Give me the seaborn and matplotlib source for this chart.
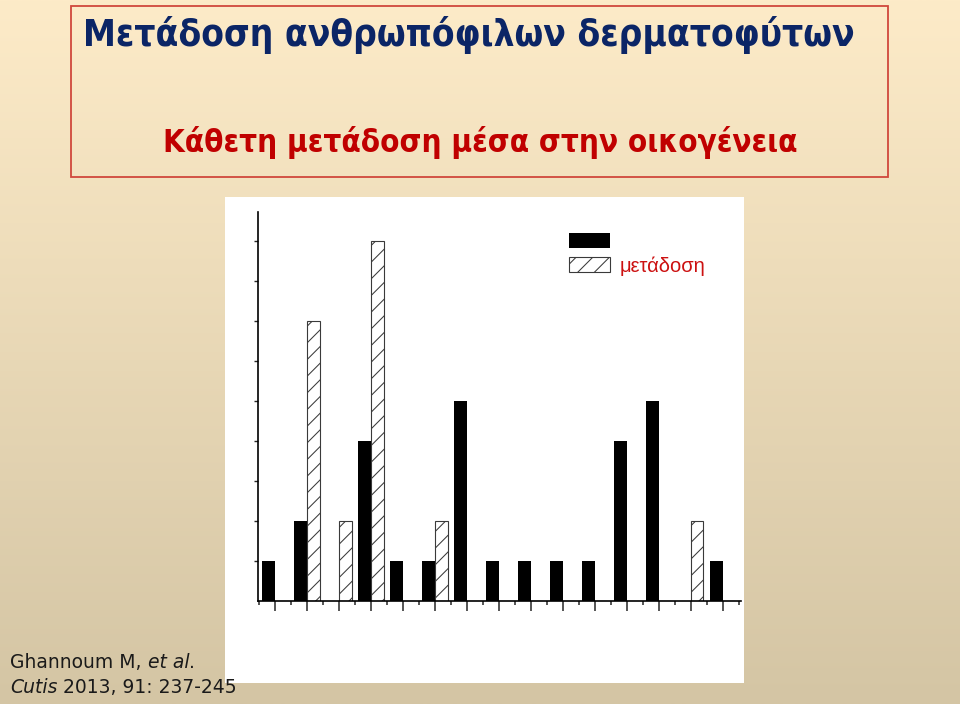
import numpy as np
import pandas as pd
import matplotlib
matplotlib.use("Agg")
import matplotlib.pyplot as plt
from matplotlib.patches import Rectangle
from matplotlib.text import Annotation
from matplotlib.ticker import FixedLocator
import seaborn as sns

# data (counts per family)
groups = [str(i) for i in range(1, 16)]
series = ["άλλο", "μετάδοση"]
solid_vals = [1, 2, 0, 4, 1, 1, 5, 1, 1, 1, 1, 4, 5, 0, 1]
hatched_vals = [0, 7, 2, 9, 0, 2, 0, 0, 0, 0, 0, 0, 0, 2, 0]
legend_labels = ["", "μετάδοση"]

title = "Μετάδοση ανθρωπόφιλων δερματοφύτων"
subtitle = "Κάθετη μετάδοση μέσα στην οικογένεια"
ref_line1 = ["Ghannoum M, ", "et al", "."]
ref_line2 = ["Cutis", " 2013, 91: 237-245"]

df = pd.DataFrame({
    "group": groups * 2,
    "series": [series[0]] * len(groups) + [series[1]] * len(groups),
    "value": solid_vals + hatched_vals,
})

sns.set_style("ticks")
plt.rcParams["font.family"] = ["DejaVu Sans"]
plt.rcParams["hatch.linewidth"] = 0.75

fig = plt.figure(figsize=(9.6, 7.04), dpi=100)

# slide background gradient
bg = fig.add_axes([0, 0, 1, 1], zorder=-10)
top = np.array([253, 235, 200]) / 255
bottom = np.array([212, 197, 164]) / 255
t = np.linspace(0, 1, 256)[:, None]
grad = (top * (1 - t) + bottom * t)[:, None, :]
bg.imshow(grad, aspect="auto", extent=[0, 1, 0, 1])
bg.set_axis_off()

# title box
fig.patches.append(Rectangle((71 / 960, 1 - 177 / 704), 817 / 960, 171 / 704,
                             transform=fig.transFigure, fill=False,
                             edgecolor="#D0483C", linewidth=1.3, zorder=1))
fig.text(83 / 960, 1 - 46 / 704, title, fontsize=26.6, fontweight="bold",
         fontstretch="condensed", color="#0B2566", ha="left", va="baseline")
fig.text(480 / 960, 1 - 152 / 704, subtitle, fontsize=22.5, fontweight="bold",
         fontstretch="condensed", color="#C00000", ha="center", va="baseline")

# white picture panel
fig.patches.append(Rectangle((225 / 960, 1 - 683 / 704), 519 / 960, 486 / 704,
                             transform=fig.transFigure, facecolor="white",
                             edgecolor="none", zorder=-5))

ax = fig.add_axes([257.5 / 960, 103 / 704, 483 / 960, 389 / 704], zorder=2)
ax.patch.set_alpha(0)
sns.barplot(data=df, x="group", y="value", hue="series", hue_order=series,
            palette=["black", "white"], saturation=1, width=0.8,
            linewidth=0, legend=False, ax=ax)

for p in ax.containers[1]:
    p.set_edgecolor("#3A3A3A")
    p.set_linewidth(0.8)
    p.set_hatch("//")

ax.set_xlim(-0.54, 14.56)
ax.set_ylim(0, 9.73)
ax.set_xlabel("")
ax.set_ylabel("")
ax.xaxis.set_major_locator(FixedLocator(range(len(groups))))
ax.xaxis.set_minor_locator(FixedLocator(np.arange(len(groups) + 1) - 0.5))
ax.yaxis.set_major_locator(FixedLocator(range(1, 10)))
ax.set_xticklabels([])
ax.set_yticklabels([])
ax.tick_params(axis="x", which="major", length=7, width=1.1, direction="out")
ax.tick_params(axis="x", which="minor", length=3, width=1.1, direction="out")
ax.tick_params(axis="y", which="major", length=3, width=1.0, direction="out")
sns.despine(ax=ax)
for s in ["left", "bottom"]:
    ax.spines[s].set_linewidth(1.2)
    ax.spines[s].set_color("black")

handles = [ax.containers[0][0], ax.containers[1][0]]
leg = ax.legend(handles, legend_labels, loc="upper left",
                bbox_to_anchor=(569 / 960, 1 - 233 / 704),
                bbox_transform=fig.transFigure, frameon=False, fontsize=14.5,
                handlelength=2.04, handleheight=0.77, handletextpad=0.45,
                labelspacing=0.2, borderpad=0, borderaxespad=0)
for txt in leg.get_texts():
    txt.set_color("#CC1111")
    txt.set_family(["Liberation Sans", "DejaVu Sans"])


# reference lines, italic parts chained after the plain ones
def footer(parts, styles, y):
    prev = fig.text(10 / 960, y, parts[0], fontsize=13.5, color="#1A1A1A",
                    style=styles[0], ha="left", va="bottom")
    for part, st in zip(parts[1:], styles[1:]):
        prev = fig.add_artist(Annotation(part, xy=(1, 0), xycoords=prev,
                                         fontsize=13.5, color="#1A1A1A",
                                         style=st, ha="left", va="bottom"))


footer(ref_line1, ["normal", "italic", "normal"], 1 - 672 / 704)
footer(ref_line2, ["italic", "normal"], 1 - 697 / 704)

fig.savefig("out.png", dpi=100)
